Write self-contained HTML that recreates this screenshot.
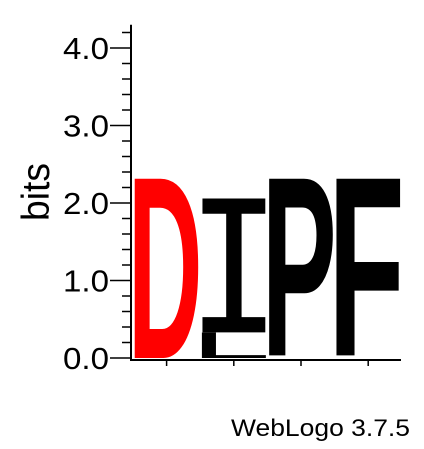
<!DOCTYPE html>
<html><head><meta charset="utf-8"><style>
body{margin:0;background:#fff;width:424px;height:444px;overflow:hidden}
svg text{font-family:"Liberation Sans",sans-serif}
</style></head><body>
<svg id="chart" width="424" height="444" xmlns="http://www.w3.org/2000/svg">
<g id="axes"></g>
<g id="marks"></g>
<text transform="translate(49,192) rotate(-90)" text-anchor="middle" font-size="39" textLength="58" lengthAdjust="spacingAndGlyphs">bits</text>
<text x="410" y="436" text-anchor="end" font-size="24" textLength="179" lengthAdjust="spacingAndGlyphs">WebLogo 3.7.5</text>
</svg>
<script>
const yTicks=[0,1,2,3,4];
const yTickLabels=["0.0","1.0","2.0","3.0","4.0"];
const positions=[1,2,3,4];
const stackLetters=[["D"],["L","I"],["P"],["F"]];
const stackHeights=[[2.32],[0.33,1.73],[2.32],[2.32]];
const stackColors=[["#ff0000"],["#000000","#000000"],["#000000"],["#000000"]];
const NS="http://www.w3.org/2000/svg";
const y0=358,pxPerBit=77.5,xLeft=133,colW=67.2;
const yS=v=>y0-v*pxPerBit;
const xS=p=>xLeft+(p-1)*colW;
const axes=document.getElementById('axes'),marks=document.getElementById('marks');
function mk(t,a,p){const e=document.createElementNS(NS,t);for(const k in a)e.setAttribute(k,a[k]);p.appendChild(e);return e;}
let l=mk('line',{x1:131,y1:y0+1,x2:131,y2:yS(4.3),stroke:'#000','stroke-width':2},axes);


l=mk('line',{x1:130,y1:y0+2,x2:401,y2:y0+2,stroke:'#000','stroke-width':2},axes);


for(let v=0;v<=4.2001;v+=0.2){
  const major=Math.abs(v-Math.round(v))<1e-6;
  const t=mk('line',{x1:major?110:122,y1:yS(v),x2:131,y2:yS(v),stroke:'#000','stroke-width':1.5},axes);
  
  
}
yTicks.forEach((v,i)=>{
  const t=mk('text',{x:109,y:yS(v)+11,'text-anchor':'end','font-size':31,textLength:46,lengthAdjust:'spacingAndGlyphs'},axes);
  t.textContent=yTickLabels[i];
  
  
});
positions.forEach(p=>{
  const cx=xS(p)+colW/2;
  const t=mk('line',{x1:cx,y1:y0+3,x2:cx,y2:y0+8,stroke:'#000','stroke-width':1.5},axes);
  
  
});
const cv=document.createElement('canvas').getContext('2d');
function fontFor(ch){return (ch==='I'||ch==='L')?'normal 100px "DejaVu Sans Mono", monospace':'bold 100px "Liberation Sans", sans-serif';}
stackLetters.forEach((letters,i)=>{
  let base=0;const x=xS(positions[i])+1,w=colW-2;
  letters.forEach((ch,j)=>{
    const h=stackHeights[i][j];
    const top=yS(base+h),bot=yS(base);
    const hp=bot-top;
    const f=fontFor(ch);
    cv.font=f;
    const m=cv.measureText(ch);
    const inkL=-m.actualBoundingBoxLeft,inkR=m.actualBoundingBoxRight;
    const inkT=-m.actualBoundingBoxAscent,inkB=m.actualBoundingBoxDescent;
    const sx=w/(inkR-inkL),sy=hp/(inkB-inkT);
    const g=mk('g',{transform:`translate(${x - inkL*sx},${top - inkT*sy}) scale(${sx},${sy})`},marks);
    const t=mk('text',{x:0,y:0,fill:stackColors[i][j],style:'font:'+f},g);
    t.textContent=ch;
    
    
    base+=h;
  });
});
</script>
</body></html>
